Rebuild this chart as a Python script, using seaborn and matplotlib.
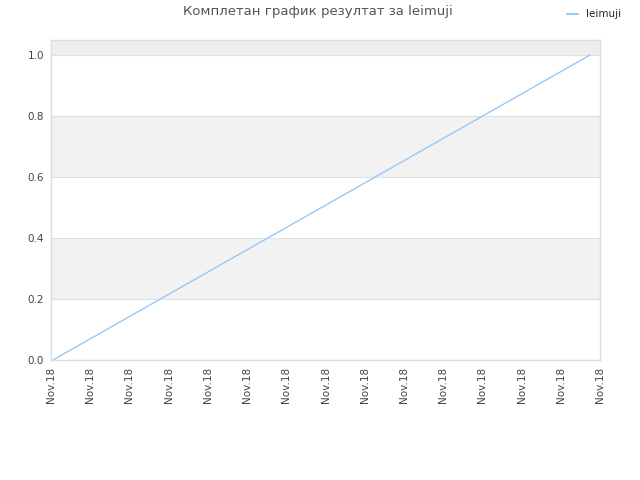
import numpy as np
import pandas as pd
import matplotlib
matplotlib.use("Agg")
import matplotlib.pyplot as plt
from matplotlib.lines import Line2D
import seaborn as sns

# data
player = "leimuji"
times = pd.to_datetime(["2018-11-18 00:03", "2018-11-18 13:45"])
scores = [0.0, 1.0]
tick_times = pd.date_range("2018-11-18 00:00", "2018-11-18 14:00", freq="h")
tick_labels = ["Nov.18"] * len(tick_times)
y_ticks = [0.0, 0.2, 0.4, 0.6, 0.8, 1.0]

df = pd.DataFrame({"time": times, "score": scores, "player": player})

sns.set_style("white")
plt.rcParams["font.family"] = ["DejaVu Sans"]

fig = plt.figure(figsize=(6.4, 4.8), dpi=100)
ax = fig.add_axes([51 / 640, 120 / 480, 549 / 640, 320 / 480])

# alternating bands
band_edges = [0.0, 0.2, 0.4, 0.6, 0.8, 1.0, 1.05]
for i in range(len(band_edges) - 1):
    if i % 2 == 1:
        c = "#eeeeee" if i == len(band_edges) - 2 else "#f2f2f2"
        ax.axhspan(band_edges[i], band_edges[i + 1], color=c, zorder=0, lw=0)

sns.lineplot(data=df, x="time", y="score", hue="player", palette=["#99c8f5"],
             linewidth=1, ax=ax, legend=False)

ax.set_xlim(tick_times[0], tick_times[-1])
ax.set_ylim(0, 1.049)
ax.set_xticks(tick_times)
ax.set_xticklabels(tick_labels, rotation=90, fontsize=7.5, color="#444444")
ax.set_yticks(y_ticks)
ax.set_yticklabels([f"{v:.1f}" for v in y_ticks], fontsize=7.5, color="#444444")
ax.tick_params(axis="both", length=0, pad=5)
ax.set_xlabel("")
ax.set_ylabel("")
ax.grid(axis="y", color="#e0e0e0", linewidth=0.8)
ax.set_axisbelow(True)
for s in ax.spines.values():
    s.set_color("#dddddd")
    s.set_linewidth(1)

fig.text(0.497, 1 - 12 / 480, "Комплетан график резултат за leimuji",
         ha="center", va="center", fontsize=9.5, color="#555555")
fig.legend([Line2D([0], [0], color="#99c8f5", lw=1.5)], [player],
           loc="upper right", bbox_to_anchor=(0.985, 1.0), frameon=False,
           fontsize=7.5, handlelength=1.0, handletextpad=0.8)

fig.savefig("out.png", dpi=100)
